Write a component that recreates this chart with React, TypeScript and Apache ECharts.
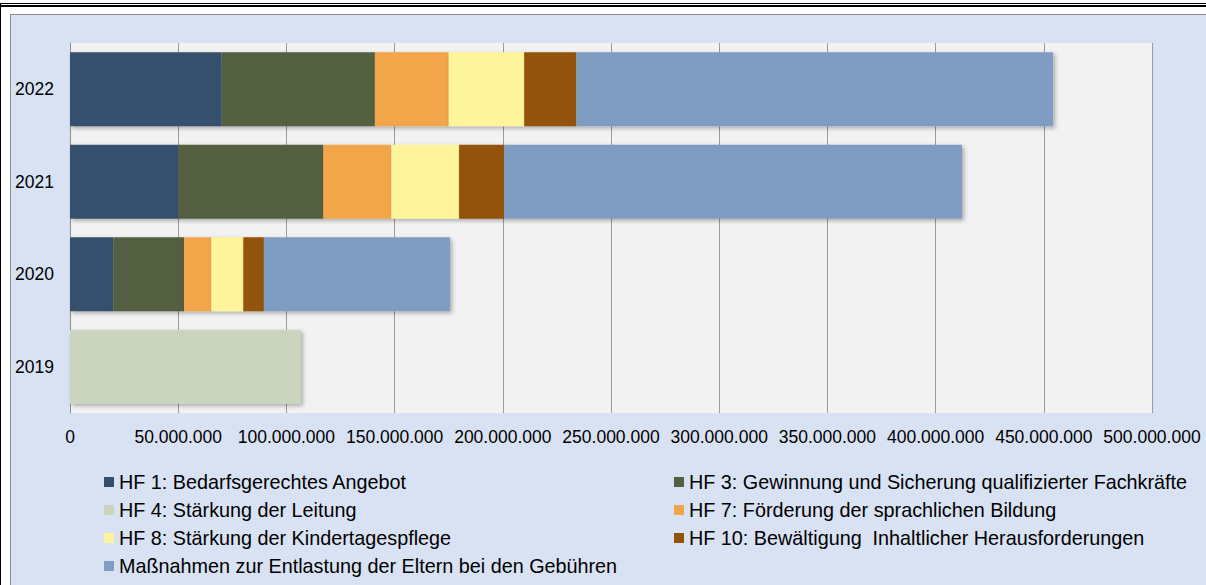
import React, { useEffect, useRef } from "react";
import * as echarts from "echarts";

const years = ["2019", "2020", "2021", "2022"];
const tickValues = [0, 50e6, 100e6, 150e6, 200e6, 250e6, 300e6, 350e6, 400e6, 450e6, 500e6];

const seriesNames = [
  "HF 1: Bedarfsgerechtes Angebot",
  "HF 3: Gewinnung und Sicherung qualifizierter Fachkräfte",
  "HF 4: Stärkung der Leitung",
  "HF 7: Förderung der sprachlichen Bildung",
  "HF 8: Stärkung der Kindertagespflege",
  "HF 10: Bewältigung  Inhaltlicher Herausforderungen",
  "Maßnahmen zur Entlastung der Eltern bei den Gebühren",
];

// values in euro, order: 2019, 2020, 2021, 2022
const hf1 = [null, 20.0e6, 50.2e6, 70.1e6];
const hf3 = [null, 32.7e6, 66.9e6, 70.8e6];
const hf4 = [106.7e6, null, null, null];
const hf7 = [null, 12.6e6, 31.4e6, 34.1e6];
const hf8 = [null, 14.8e6, 31.3e6, 34.9e6];
const hf10 = [null, 9.5e6, 20.9e6, 24.1e6];
const entlastung = [null, 86.0e6, 211.5e6, 220.3e6];

const colors = ["#344f6d", "#535f41", "#cbd4be", "#f2a548", "#fdf49b", "#925209", "#7f9dc2"];

const seriesData = [hf1, hf3, hf4, hf7, hf8, hf10, entlastung];

function fmt(v: number): string {
  const s = Math.round(v).toString();
  return s.replace(/\B(?=(\d{3})+(?!\d))/g, ".");
}

const FONT = "'Liberation Sans', Arial, sans-serif";

export default function App() {
  const ref = useRef<HTMLDivElement>(null);
  useEffect(() => {
    if (!ref.current) return;
    const chart = echarts.init(ref.current, undefined, { renderer: "svg" });
    const legendCommon = {
      orient: "vertical" as const,
      top: 472,
      height: 130,
      padding: 0,
      itemWidth: 10,
      itemHeight: 10,
      itemGap: 8,
      icon: "rect",
      textStyle: { fontFamily: FONT, fontSize: 19.8, lineHeight: 20, color: "#000" },
    };
    chart.setOption({
      animation: false,
      backgroundColor: "transparent",
      textStyle: { fontFamily: FONT },
      grid: {
        left: 70,
        top: 43,
        width: 1082,
        height: 370,
        show: true,
        backgroundColor: "#f2f2f2",
        borderWidth: 0,
      },
      legend: [
        { ...legendCommon, left: 104, data: [seriesNames[0], seriesNames[2], seriesNames[4], seriesNames[6]] },
        { ...legendCommon, left: 674, data: [seriesNames[1], seriesNames[3], seriesNames[5]] },
      ],
      xAxis: {
        type: "value",
        min: tickValues[0],
        max: tickValues[tickValues.length - 1],
        interval: tickValues[1] - tickValues[0],
        axisLine: { show: false },
        axisTick: { show: false },
        splitLine: { show: true, lineStyle: { color: "#9b9b9b", width: 1 } },
        axisLabel: {
          formatter: (v: number) => fmt(v),
          fontFamily: FONT,
          fontSize: 17.5,
          color: "#000",
          margin: 15,
        },
      },
      yAxis: {
        type: "category",
        data: years,
        axisLine: { show: true, lineStyle: { color: "#8c8c8c", width: 1 } },
        axisTick: { show: false },
        axisLabel: { fontFamily: FONT, fontSize: 17.5, color: "#000", margin: 16 },
      },
      series: seriesNames.map((name, i) => ({
        name,
        type: "bar",
        stack: "total",
        barCategoryGap: "20%",
        data: seriesData[i],
        itemStyle: {
          color: colors[i],
          shadowBlur: 4,
          shadowOffsetX: 2,
          shadowOffsetY: 2,
          shadowColor: "rgba(0,0,0,0.3)",
        },
      })),
    });
    return () => chart.dispose();
  }, []);

  return (
    <div style={{ position: "fixed", left: 0, top: 0, width: 1206, height: 585, background: "#fff", overflow: "hidden" }}>
      <div style={{ position: "absolute", left: 0, top: 3, width: 1206, height: 1, background: "#000" }} />
      <div style={{ position: "absolute", left: 0, top: 5, width: 1206, height: 2, background: "#000" }} />
      <div style={{ position: "absolute", left: 0, top: 3, width: 1, height: 600, background: "#000" }} />
      <div
        style={{
          position: "absolute",
          left: 10,
          top: 14,
          width: 1220,
          height: 600,
          background: "#d9e2f3",
          borderLeft: "1px solid #8c8c8c",
          borderTop: "1px solid #8c8c8c",
        }}
      />
      <div ref={ref} style={{ position: "absolute", left: 0, top: 0, width: 1206, height: 585 }} />
    </div>
  );
}
